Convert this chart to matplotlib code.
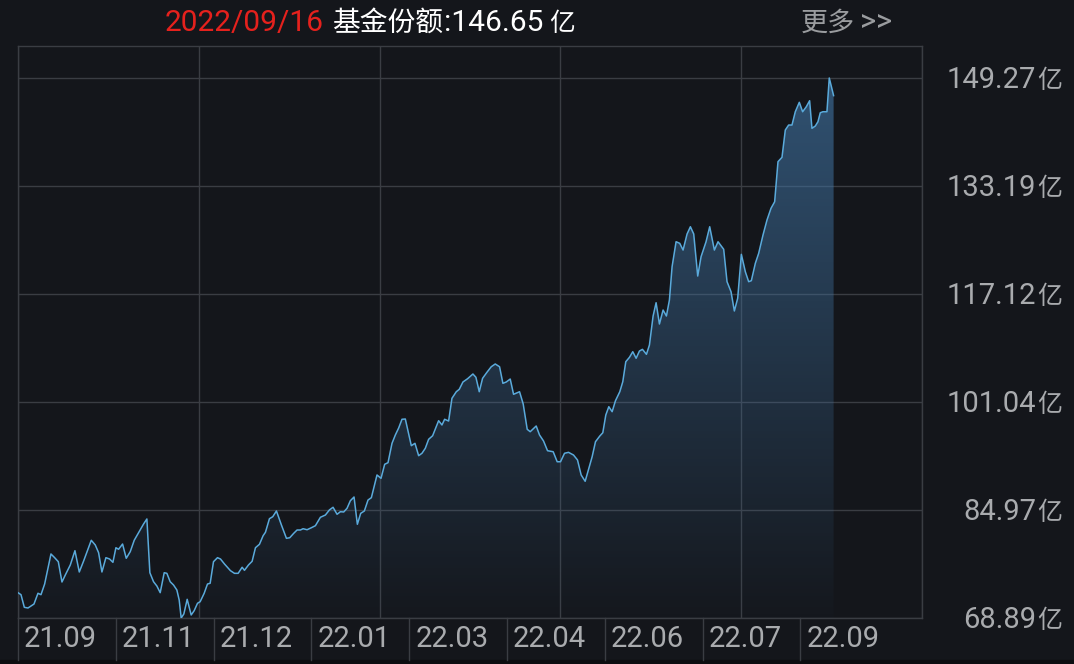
import numpy as np
import matplotlib
matplotlib.use("Agg")
import matplotlib.pyplot as plt
from matplotlib.colors import LinearSegmentedColormap
from matplotlib.patches import Rectangle

# ---- data (trading-day index, fund share in 亿) ----
day = [0, 0.9, 1.9, 3.0, 3.9, 4.8, 6.0, 6.9, 8.0, 9.9, 11.0, 12.1, 13.2, 14.2, 15.7, 17.1, 18.4, 19.7,
       22.0, 23.2, 24.2, 25.2, 26.4, 27.5, 28.5, 29.4, 30.2, 31.4, 32.5, 33.7, 34.9, 36.2, 37.7, 38.7,
       39.6, 40.7, 41.7, 42.7, 43.9, 44.7, 45.7, 46.7, 47.7, 48.4, 49.0, 49.8, 50.8, 52.0, 52.9, 53.9,
       54.7, 55.9, 56.9, 57.7, 58.7, 59.9, 60.8, 62.0, 63.8, 65.0, 66.1, 67.3, 68.0, 69.2, 70.3, 71.3,
       72.5, 73.6, 74.3, 75.5, 76.5, 77.6, 79.1, 80.6, 81.6, 82.8, 83.8, 84.8, 85.6, 86.8, 88.1, 89.3,
       90.8, 92.3, 93.5, 94.6, 95.8, 96.8, 97.8, 98.8, 99.8, 100.9, 101.9, 102.9, 104.0, 105.1, 106.1,
       107.8, 109.0, 110.1, 111.1, 112.3, 113.3, 114.3, 115.3, 116.3, 118.1, 119.2, 120.3, 121.3, 122.3,
       123.3, 124.5, 126.3, 127.3, 128.1, 129.3, 130.3, 131.6, 132.5, 133.6, 135.0, 136.6, 137.5, 138.5,
       139.5, 140.8, 142.1, 143.3, 144.6, 145.6, 146.6, 147.8, 148.8, 150.6, 151.7, 152.9, 153.8, 155.6,
       156.6, 157.8, 159.0, 160.7, 161.9, 162.9, 164.1, 165.3, 166.8, 168.0, 169.1, 170.3, 171.4, 172.4,
       173.4, 174.7, 175.6, 176.5, 177.4, 178.4, 179.4, 180.7, 181.6, 182.5, 183.6, 184.6, 185.6, 186.6,
       187.5, 188.7, 189.6, 190.7, 191.6, 192.6, 193.7, 194.7, 195.6, 196.4, 197.6, 198.7, 199.7, 200.9,
       201.9, 202.9, 204.1, 205.1, 206.6, 207.7, 209.1, 210.2, 211.9, 212.9, 214.1, 215.1, 216.1, 217.2,
       218.4, 219.4, 220.2, 221.4, 222.4, 223.7, 224.9, 226.1, 227.2, 228.2, 229.4, 230.4, 231.4, 232.4,
       233.4, 234.6, 235.6, 236.7, 237.7, 238.4, 239.4, 240.2, 240.9, 241.7, 242.9, 243.6, 244.9]
share = [72.66, 72.36, 70.48, 70.38, 70.68, 70.97, 72.57, 72.36, 73.95, 78.42, 77.87, 77.27, 74.25, 75.29,
         76.78, 78.91, 75.74, 77.37, 80.46, 79.76, 78.61, 75.74, 77.87, 77.67, 77.18, 79.35, 79.12, 79.90,
         77.78, 78.76, 80.46, 81.59, 82.88, 83.63, 75.63, 74.29, 73.65, 72.66, 75.63, 75.54, 74.29, 73.80,
         73.06, 71.57, 68.89, 69.49, 71.67, 69.34, 69.98, 71.08, 71.32, 72.57, 73.95, 74.06, 77.27, 77.87,
         77.67, 76.93, 75.93, 75.54, 75.54, 76.44, 75.99, 76.78, 77.33, 79.35, 79.86, 81.14, 81.65, 83.67,
         83.97, 84.82, 82.73, 80.75, 80.84, 81.50, 81.99, 81.99, 82.18, 82.03, 82.33, 82.63, 83.88, 84.22,
         84.97, 85.37, 84.33, 84.71, 84.67, 85.22, 86.35, 86.90, 82.84, 84.47, 84.82, 86.45, 86.80, 90.18,
         89.68, 91.77, 92.01, 94.89, 96.13, 97.17, 98.47, 98.51, 94.54, 94.89, 93.05, 93.41, 94.15, 95.49,
         96.02, 98.26, 97.62, 98.47, 98.21, 101.59, 102.57, 102.93, 104.02, 104.51, 105.21, 104.72, 102.57,
         104.57, 105.46, 106.29, 106.70, 106.29, 103.82, 104.02, 104.46, 102.19, 102.57, 100.74, 96.98,
         96.62, 97.47, 96.13, 95.24, 93.79, 93.64, 92.15, 92.15, 93.41, 93.55, 93.15, 92.41, 90.18, 89.24,
         91.17, 92.90, 95.13, 95.98, 96.47, 99.11, 100.34, 99.60, 101.23, 102.57, 104.06, 107.04, 107.69,
         108.53, 107.55, 108.63, 108.88, 108.14, 109.52, 113.84, 115.82, 112.65, 114.73, 113.84, 116.22,
         121.18, 124.90, 124.66, 123.66, 126.05, 127.13, 126.05, 119.79, 122.67, 124.90, 127.13, 123.66,
         124.90, 123.77, 118.95, 117.46, 114.59, 116.48, 123.02, 120.43, 118.95, 119.10, 121.69, 123.17,
         125.90, 128.13, 129.87, 130.85, 136.81, 137.46, 141.53, 142.27, 142.27, 144.25, 145.65, 144.25,
         144.99, 145.89, 141.78, 142.12, 142.76, 144.10, 144.25, 144.25, 149.27, 146.65]

y_labels = ["68.89", "84.97", "101.04", "117.12", "133.19", "149.27"]
x_labels = ["21.09", "21.11", "21.12", "22.01", "22.03", "22.04", "22.06", "22.07", "22.09"]
title_date = "2022/09/16"
title_name = "基金份额"
title_value = ":146.65"
unit = "亿"
more_cn = "更多"
more_arrow = ">>"

# ---- style ----
BG = "#14161b"
GRID = "#3a3d43"
LINE = "#5aaadb"
TXT = "#a9abae"
CJK = ["Noto Sans CJK SC", "DejaVu Sans"]
NUM = ["Roboto", "Noto Sans CJK SC", "DejaVu Sans"]

W, H = 1074, 664
fig = plt.figure(figsize=(W / 100, H / 100), dpi=100, facecolor=BG)

def fx(px):
    return px / W

def fy(py):
    return 1 - py / H

ax_l, ax_r, ax_t, ax_b = 18, 922, 46, 618
ax = fig.add_axes([fx(ax_l), fy(ax_b), fx(ax_r - ax_l), (ax_b - ax_t) / H])
ax.set_facecolor(BG)

ymin, ymax = float(y_labels[0]), float(y_labels[-1])
ytop = ymin + (ymax - ymin) * (ax_b - ax_t) / (618 - 78)
xmax = day[-1] * (ax_r - ax_l) / (833.3 - 17.7)

# grid
yt = np.linspace(ymin, ymax, len(y_labels))
for v in yt:
    ax.axhline(v, color=GRID, lw=1.0, zorder=1)
for f in np.linspace(0, 1, 6):
    ax.axvline(f * xmax, color=GRID, lw=1.0, zorder=1)
for s in ax.spines.values():
    s.set_color(GRID)
    s.set_linewidth(1.0)
ax.set_xticks([])
ax.set_yticks([])

# gradient fill under line
x = np.array(day)
y = np.array(share)
cmap = LinearSegmentedColormap.from_list("g", [(0, (0.26, 0.47, 0.66, 0.02)), (1, (0.26, 0.47, 0.66, 0.62))])
grad = np.linspace(0, 1, 256).reshape(-1, 1)
im = ax.imshow(grad, extent=[x[0], x[-1], ymin, ymax], origin="lower", aspect="auto",
               cmap=cmap, zorder=2)
poly = ax.fill_between(x, y, ymin, color="none", lw=0)
path = poly.get_paths()[0]
im.set_clip_path(path, transform=ax.transData)
ax.plot(x, y, color=LINE, lw=1.1, zorder=3)
ax.set_xlim(0, xmax)
ax.set_ylim(ymin, ytop)

# y labels (right)
for v, lab in zip(yt, y_labels):
    ax.annotate(lab, xy=(1, v), xycoords=("axes fraction", "data"), xytext=(1036 - ax_r, -10),
                textcoords="offset pixels", ha="right", va="baseline", color=TXT,
                fontsize=21, family=NUM, annotation_clip=False)
    ax.annotate(unit, xy=(1, v), xycoords=("axes fraction", "data"), xytext=(1037 - ax_r, -10),
                textcoords="offset pixels", ha="left", va="baseline", color=TXT,
                fontsize=18, family=CJK, annotation_clip=False)

# x label strip
step = 97.8
for i, lab in enumerate(x_labels):
    sx = ax_l + i * step
    fig.add_artist(plt.Line2D([fx(sx), fx(sx)], [fy(ax_b), fy(660)], color=GRID, lw=1.0))
    fig.text(fx(sx + 6), fy(647), lab, color=TXT, fontsize=21, family=NUM, ha="left", va="baseline")

fig.add_artist(Rectangle((0, 0), 1, fy(660), transform=fig.transFigure, color="#0c0d10", zorder=0))

# title
base = fy(31)
fig.text(fx(165), base, title_date, color="#e5211d", fontsize=21.5, family=NUM, ha="left", va="baseline")
fig.text(fx(332), base, title_name, color="white", fontsize=20, family=CJK, ha="left", va="baseline")
fig.text(fx(444), base, title_value, color="white", fontsize=21.5, family=NUM, ha="left", va="baseline")
fig.text(fx(549), base, unit, color="white", fontsize=18.5, family=CJK, ha="left", va="baseline")
fig.text(fx(801), base, more_cn, color="#9a9c9f", fontsize=19.5, family=CJK, ha="left", va="baseline")
fig.text(fx(860), base, more_arrow, color="#9a9c9f", fontsize=22, family=NUM, ha="left", va="baseline")

fig.savefig("out.png", dpi=100, facecolor=BG)
